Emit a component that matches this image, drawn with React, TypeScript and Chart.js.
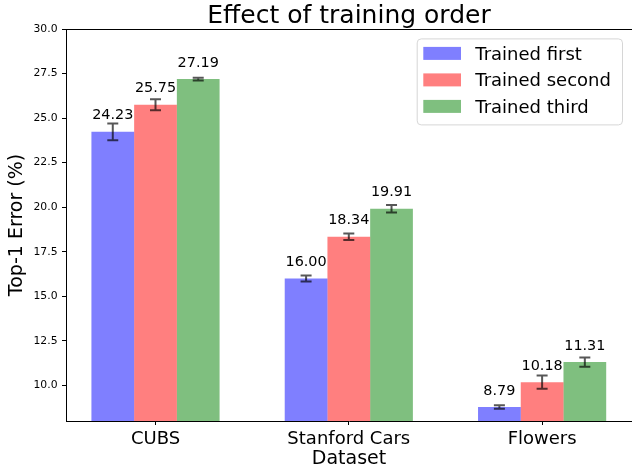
import React, { useEffect, useRef } from "react";
import { Chart, registerables } from "chart.js";

Chart.register(...registerables);

const categories = ["CUBS", "Stanford Cars", "Flowers"];
const seriesLabels = ["Trained first", "Trained second", "Trained third"];
const firstValues = [24.23, 16.0, 8.79];
const secondValues = [25.75, 18.34, 10.18];
const thirdValues = [27.19, 19.91, 11.31];
const firstErrors = [0.47, 0.17, 0.1];
const secondErrors = [0.31, 0.18, 0.37];
const thirdErrors = [0.08, 0.21, 0.26];
const seriesColors = ["rgba(0,0,255,0.5)", "rgba(255,0,0,0.5)", "rgba(0,128,0,0.5)"];
const yTicks = [10, 12.5, 15, 17.5, 20, 22.5, 25, 27.5, 30];
const yMin = 8.0;
const yMax = 30;
const titleText = "Effect of training order";
const xTitle = "Dataset";
const yTitle = "Top-1 Error (%)";

const seriesValues = [firstValues, secondValues, thirdValues];
const seriesErrors = [firstErrors, secondErrors, thirdErrors];

const FONT = "'DejaVu Sans', 'Liberation Sans', sans-serif";

const overlayPlugin = {
  id: "overlay",
  afterDatasetsDraw(chart: any) {
    const ctx = chart.ctx;
    const ys = chart.scales.y;
    const area = chart.chartArea;
    ctx.save();
    // top spine
    ctx.strokeStyle = "#000";
    ctx.lineWidth = 1;
    ctx.beginPath();
    const ty = Math.round(area.top) + 0.5;
    ctx.moveTo(area.left, ty);
    ctx.lineTo(area.right, ty);
    ctx.stroke();

    // error bars + value labels
    seriesValues.forEach((vals, i) => {
      const meta = chart.getDatasetMeta(i);
      meta.data.forEach((bar: any, j: number) => {
        const v = vals[j];
        const e = seriesErrors[i][j];
        const x = bar.x;
        const y1 = ys.getPixelForValue(v + e);
        const y2 = ys.getPixelForValue(v - e);
        ctx.strokeStyle = "rgba(0,0,0,0.66)";
        ctx.lineWidth = 2;
        ctx.beginPath();
        ctx.moveTo(x, y1);
        ctx.lineTo(x, y2);
        ctx.moveTo(x - 5.5, y1);
        ctx.lineTo(x + 5.5, y1);
        ctx.moveTo(x - 5.5, y2);
        ctx.lineTo(x + 5.5, y2);
        ctx.stroke();

        ctx.fillStyle = "#000";
        ctx.font = `14.4px ${FONT}`;
        ctx.textAlign = "center";
        ctx.textBaseline = "bottom";
        ctx.fillText(v.toFixed(2), x, ys.getPixelForValue(v + 0.5));
      });
    });
    ctx.restore();
  },
  afterDraw(chart: any) {
    const ctx = chart.ctx;
    const area = chart.chartArea;
    ctx.save();
    // title
    ctx.fillStyle = "#000";
    ctx.font = `25px ${FONT}`;
    ctx.textAlign = "center";
    ctx.textBaseline = "alphabetic";
    ctx.fillText(titleText, (area.left + area.right) / 2, area.top - 6.4);

    // legend
    const bx = area.right - 215.3;
    const by = area.top + 9.4;
    const bw = 205.3;
    const bh = 86;
    ctx.beginPath();
    (ctx as any).roundRect(bx + 0.5, by + 0.5, bw, bh, 4);
    ctx.fillStyle = "rgba(255,255,255,0.8)";
    ctx.fill();
    ctx.strokeStyle = "#d6d6d6";
    ctx.lineWidth = 1;
    ctx.stroke();
    seriesLabels.forEach((lab, i) => {
      const cy = by + 15 + i * 26.5;
      ctx.fillStyle = seriesColors[i];
      ctx.fillRect(bx + 6.6, cy - 6.5, 37.7, 13);
      ctx.fillStyle = "#000";
      ctx.font = `18px ${FONT}`;
      ctx.textAlign = "left";
      ctx.textBaseline = "alphabetic";
      ctx.fillText(lab, bx + 58.6, cy + 6.3);
    });
    ctx.restore();
  },
};

export default function App() {
  const ref = useRef<HTMLCanvasElement | null>(null);
  useEffect(() => {
    document.body.style.margin = "0";
    const canvas = ref.current;
    if (!canvas) return;
    const chart = new Chart(canvas, {
      type: "bar",
      data: {
        datasets: seriesLabels.map((label, i) => ({
          label,
          data: seriesValues[i].map((v, j) => ({ x: j, y: v })),
          backgroundColor: seriesColors[i],
          borderWidth: 0,
          barPercentage: 1,
          categoryPercentage: 0.663,
        })),
      },
      options: {
        animation: false,
        responsive: false,
        devicePixelRatio: 1,
        layout: { padding: { top: 29, left: 0, right: -4, bottom: 0 } },
        plugins: {
          legend: { display: false },
          title: { display: false },
          tooltip: { enabled: false },
        },
        scales: {
          x: {
            type: "linear",
            offset: false,
            min: -0.463,
            max: 2.465,
            afterBuildTicks: (s: any) => {
              s.ticks = categories.map((_, i) => ({ value: i }));
            },
            afterFit: (s: any) => {
              s.height = 48;
            },
            ticks: {
              autoSkip: false,
              maxRotation: 0,
              padding: 4,
              color: "#000",
              font: { family: FONT, size: 18 },
              callback: (v: any) => categories[v as number] ?? "",
            },
            grid: {
              offset: false,
              drawOnChartArea: false,
              drawTicks: true,
              tickLength: 4,
              tickColor: "#000",
              tickWidth: 1,
            },
            border: { display: true, color: "#000", width: 1 },
            title: {
              display: true,
              text: xTitle,
              color: "#000",
              font: { family: FONT, size: 19, lineHeight: 1.0 },
              padding: { top: 0, bottom: 0 },
            },
          },
          y: {
            type: "linear",
            min: yMin,
            max: yMax,
            afterBuildTicks: (s: any) => {
              s.ticks = yTicks.map((v) => ({ value: v }));
            },
            afterFit: (s: any) => {
              s.width = 66;
            },
            ticks: {
              padding: 4.5,
              color: "#000",
              font: { family: FONT, size: 10.8 },
              callback: (v: any) => Number(v).toFixed(1),
            },
            grid: {
              drawOnChartArea: false,
              drawTicks: true,
              tickLength: 4,
              tickColor: "#000",
              tickWidth: 1,
            },
            border: { display: true, color: "#000", width: 1 },
            title: {
              display: true,
              text: yTitle,
              color: "#000",
              font: { family: FONT, size: 19, lineHeight: 1.2 },
              padding: { top: 5.6, bottom: 0 },
            },
          },
        },
      },
      plugins: [overlayPlugin],
    } as any);
    return () => chart.destroy();
  }, []);
  return (
    <div style={{ width: 632, height: 469, position: "relative" }}>
      <canvas ref={ref} width={632} height={469} />
    </div>
  );
}
